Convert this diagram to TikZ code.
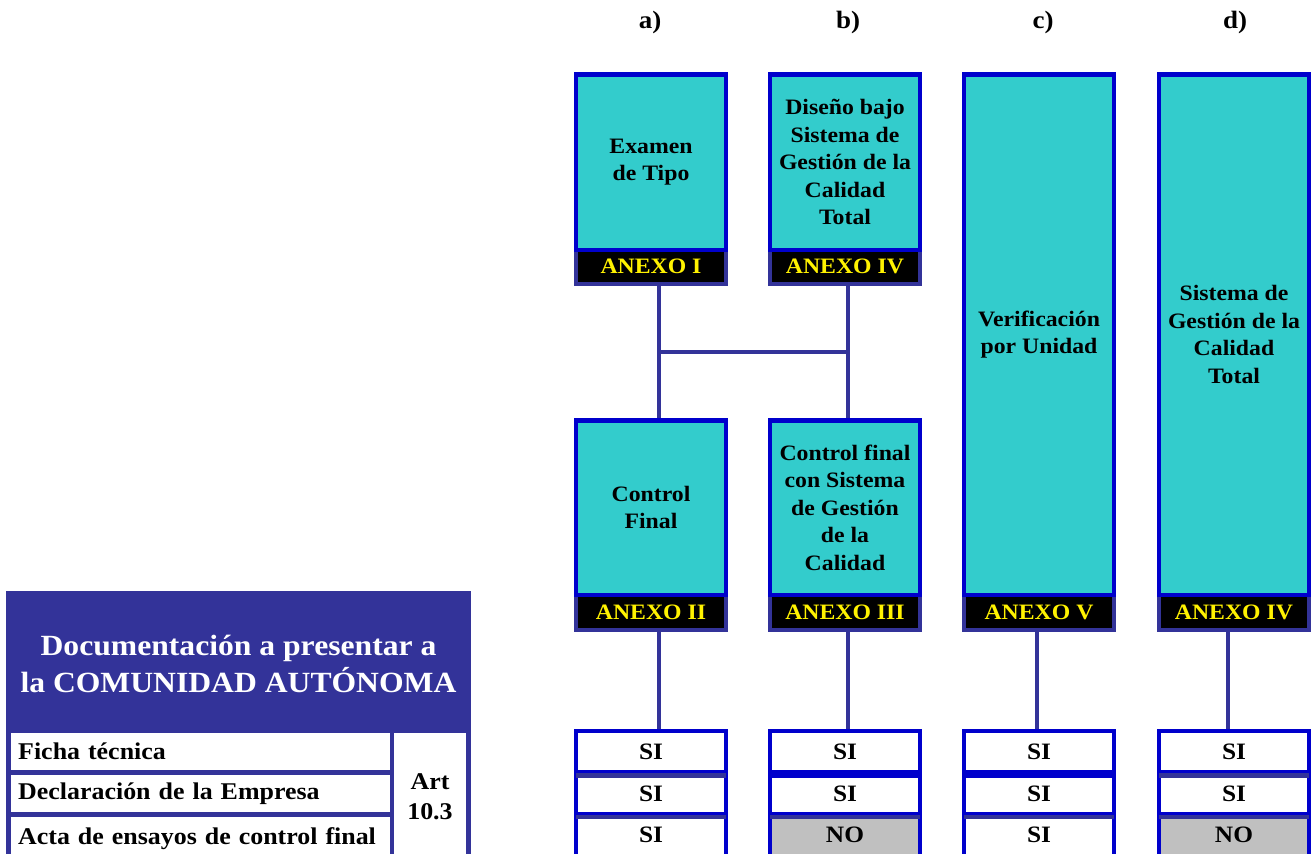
\documentclass[tikz,border=0pt]{standalone}
\usepackage{fontspec}
\setmainfont[FakeStretch=1.08]{Liberation Serif}
\usepackage{tikz}
\usetikzlibrary{positioning, backgrounds}
\definecolor{boxcyan}{HTML}{33CCCC}
\definecolor{boxblue}{HTML}{0000CC}
\definecolor{navy}{HTML}{333399}
\definecolor{nogray}{HTML}{C0C0C0}
\tikzset{%
  % procedure box (cyan, blue frame)
  procbox/.style={rectangle, draw=boxblue, fill=boxcyan, line width=4.5pt, minimum width=150pt, align=center, inner sep=2pt, font=\bfseries\fontsize{22}{27.5}\selectfont},
  % annex bar under a box
  annexbar/.style={rectangle, draw=navy, fill=black, line width=4pt, minimum width=150pt, minimum height=36pt, inner sep=0pt, text=yellow, font=\bfseries\fontsize{22}{24}\selectfont},
  % line joining boxes
  link/.style={draw=navy, line width=4pt},
  % answer cell
  cell/.style={rectangle, draw=boxblue, fill=white, line width=4.5pt, minimum width=150pt, minimum height=42pt, inner sep=0pt, font=\bfseries\fontsize{23.5}{24}\selectfont},
  sepline/.style={draw=navy, line width=4.5pt},
  % column letters
  collabel/.style={font=\bfseries\fontsize{25}{26}\selectfont},
  % left table
  doccell/.style={rectangle, fill=white, minimum height=37pt, text width=365pt, inner xsep=7pt, inner ysep=0pt, align=left, anchor=west, font=\bfseries\fontsize{24}{26}\selectfont},
  dochead/.style={text=white, align=center, font=\bfseries\fontsize{29.3}{37}\selectfont}
}
\begin{document}
\begin{tikzpicture}[x=1pt, y=-1pt]
  \clip (0,0) rectangle (1315,854);
  % column letters
  \foreach \c/\x in {a/650, b/848, c/1043, d/1235} {
    \node[collabel] (lab\c) at (\x,22) {\c)};
  }

  % annex bars first, the boxes sit on top of them
  \node[annexbar] (anxI) at (651,266) {ANEXO I};
  \node[annexbar] (anxIVb) at (845,266) {ANEXO IV};
  \node[annexbar] (anxII) at (651,612) {ANEXO II};
  \node[annexbar] (anxIII) at (845,612) {ANEXO III};
  \node[annexbar] (anxV) at (1039,612) {ANEXO V};
  \node[annexbar] (anxIVd) at (1234,612) {ANEXO IV};

  \node[procbox, minimum height=175.5pt] (exam) at (651,162) {Examen\\de Tipo};
  \node[procbox, minimum height=175.5pt] (design) at (845,162) {Diseño bajo\\Sistema de\\Gestión de la\\Calidad\\Total};
  \node[procbox, minimum height=174.5pt] (ctlA) at (651,507.5) {Control\\Final};
  \node[procbox, minimum height=174.5pt] (ctlB) at (845,507.5) {Control final\\con Sistema\\de Gestión\\de la\\Calidad};
  \node[procbox, minimum height=520.5pt] (verif) at (1039,334.5) {Verificación\\por Unidad};
  \node[procbox, minimum height=520.5pt] (qms) at (1234,334.5) {Sistema de\\Gestión de la\\Calidad\\Total};

  % answer cells
  \foreach \c/\x/\ans/\col in {A/651/SI/white, B/845/NO/nogray, C/1039/SI/white, D/1234/NO/nogray} {
    \node[cell] (si\c1) at (\x,752) {SI};
    \node[cell] (si\c2) at (\x,793.5) {SI};
    \node[cell, fill=\col] (si\c3) at (\x,835) {\ans};
  }
  \foreach \c/\sep in {A/navy, B/boxblue, C/boxblue, D/navy} {
    \draw[sepline, draw=\sep] ([xshift=2.25pt]si\c1.south west) -- ([xshift=-2.25pt]si\c1.south east);
    \draw[sepline] ([xshift=2.25pt]si\c2.south west) -- ([xshift=-2.25pt]si\c2.south east);
  }

  % links behind everything
  \begin{pgfonlayer}{background}
    \path ([xshift=8pt]anxI.south) -- coordinate[pos=0.5] (jA) ([xshift=8pt]anxI.south |- ctlA.north);
    \path ([xshift=3pt]anxIVb.south) -- coordinate[pos=0.5] (jB) ([xshift=3pt]anxIVb.south |- ctlB.north);
    \draw[link] ([xshift=8pt]anxI.south) -- ([xshift=8pt]anxI.south |- ctlA.north);
    \draw[link] ([xshift=3pt]anxIVb.south) -- ([xshift=3pt]anxIVb.south |- ctlB.north);
    \draw[link] (jA) -- (jB);
    \foreach \n/\c/\s in {anxII/A/8, anxIII/B/3, anxV/C/-2, anxIVd/D/-6} {
      \draw[link] ([xshift=\s pt]\n.south) -- ([xshift=\s pt]\n.south |- si\c1.north);
    }
  \end{pgfonlayer}

  % documents table
  \fill[navy] (6,591) rectangle (471,860);
  \node[dochead] (head) at (238.5,663.5) {Documentación a presentar a\\la COMUNIDAD AUTÓNOMA};
  \node[doccell] (ficha) at (11,751.5) {Ficha técnica};
  \node[doccell] (decl) at (11,793.5) {Declaración de la Empresa};
  \node[doccell, minimum height=43pt] (acta) at (11,838.5) {Acta de ensayos de control final};
  \node[rectangle, fill=white, minimum width=72pt, minimum height=127pt, align=center,
        font=\bfseries\fontsize{24}{30}\selectfont] (art) at (430,796.5) {Art\\10.3};
\end{tikzpicture}
\end{document}
